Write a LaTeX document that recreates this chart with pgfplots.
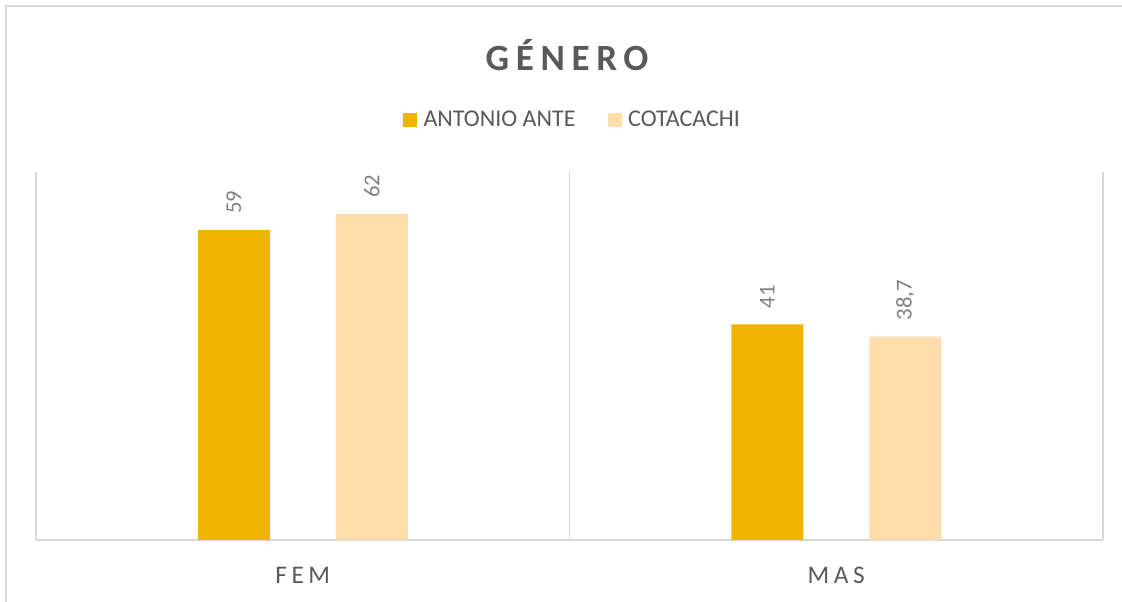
\documentclass[border=0pt]{standalone}
\usepackage{pgfplots}
\pgfplotsset{compat=1.18}
\usepackage{fontspec}
\setmainfont{Carlito}
\newfontfamily\spaced{Carlito}[LetterSpace=18]
\definecolor{cAnte}{HTML}{F0B400}
\definecolor{cCota}{HTML}{FFDDAA}
\definecolor{cText}{HTML}{595959}
\definecolor{cLabel}{HTML}{808080}
\definecolor{cGrid}{HTML}{D9D9D9}

\begin{document}
\begin{tikzpicture}
\path[use as bounding box] (0pt,0pt) rectangle (841.5pt,451.5pt);
% outer chart frame (cropped on the right and bottom)
\draw[cGrid, line width=1.5pt] (4.5pt,0pt) -- (4.5pt,447pt) -- (841.5pt,447pt);
\node[font=\spaced\bfseries\fontsize{27.75}{30}\selectfont, text=cText]
  at (425.25pt,410.25pt) {GÉNERO};
\begin{axis}[
  at={(27pt,46.5pt)}, anchor=south west,
  scale only axis, width=800.25pt, height=276pt,
  ybar, bar width=54pt,
  xmin=-0.5, xmax=1.5, ymin=0, ymax=70,
  axis y line=none, axis x line=bottom,
  x axis line style={-, draw=cGrid, line width=1.2pt},
  xtick={0,1}, xticklabels={FEM,MAS},
  xtick style={draw=none},
  xticklabel style={font=\spaced\fontsize{19}{21}\selectfont, text=cText,
                    anchor=center, yshift=-24.75pt},
  extra x ticks={-0.5,0.5,1.5}, extra x tick labels={},
  extra x tick style={grid=major, major grid style={cGrid, line width=1.2pt}},
  /pgf/number format/assume math mode=true,
  nodes near coords={\pgfmathprintnumber[use comma]{\pgfplotspointmeta}},
  every node near coord/.append style={font=\fontsize{17}{19}\selectfont,
     text=cLabel, rotate=90, anchor=west, inner sep=0pt, inner xsep=12pt},
  legend style={at={(0.503,1.141)}, anchor=center, draw=none,
     font=\fontsize{18}{20}\selectfont, text=cText,
     /tikz/every odd column/.append style={column sep=3pt},
     /tikz/every even column/.append style={column sep=22pt}},
  legend columns=2,
  legend image code/.code={\fill[#1] (0pt,-5.25pt) rectangle (10.5pt,5.25pt);},
  clip=false,
]
\addplot[fill=cAnte, draw=none, bar shift=-51.75pt]
  coordinates {(0,59) (1,41)};
\addplot[fill=cCota, draw=none, bar shift=51.75pt]
  coordinates {(0,62) (1,38.7)};
\legend{ANTONIO ANTE, COTACACHI}
\end{axis}
\end{tikzpicture}
\end{document}
